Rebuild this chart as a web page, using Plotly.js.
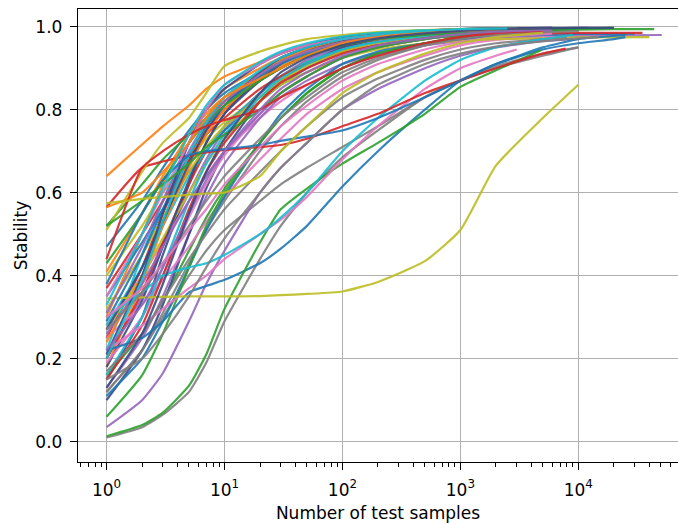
<!DOCTYPE html>
<html>
<head>
<meta charset="utf-8">
<script src="https://cdn.plot.ly/plotly-3.0.1.min.js"></script>
<style>html,body{margin:0;padding:0;overflow:hidden;background:#fff}</style>
</head>
<body>
<div id="chart" style="width:678px;height:523px"></div>
<script>
// shared x grid (number of test samples)
const xGrid = [1,2,3,5,7,10,20,30,50,100,200,500,1000,2000,5000,10000,20000,40000];

// stability curves (values on xGrid, truncated at each curve's end)
const s01 = [0.47,0.58,0.66,0.75,0.80,0.84,0.89,0.915,0.94,0.96,0.975,0.985,0.99,0.993,0.995];
const s02 = [0.30,0.50,0.62,0.74,0.80,0.85,0.90,0.925,0.945,0.965,0.978,0.988,0.992,0.994];
const s03 = [0.52,0.62,0.68,0.74,0.78,0.82,0.87,0.90,0.93,0.955,0.97,0.982,0.988,0.992,0.995,0.996,0.997];
const s04 = [0.25,0.42,0.55,0.68,0.75,0.80,0.87,0.90,0.93,0.955,0.97,0.982,0.988,0.992,0.994];
const s05 = [0.20,0.35,0.47,0.60,0.68,0.75,0.84,0.88,0.92,0.95,0.965,0.978,0.985,0.99,0.993];
const s06 = [0.15,0.30,0.45,0.62,0.72,0.79,0.88,0.915,0.945,0.97,0.982,0.99,0.994,0.996,0.997];
const s07 = [0.28,0.40,0.48,0.58,0.64,0.70,0.78,0.82,0.86,0.90,0.93,0.955,0.97,0.98,0.985];
const s08 = [0.12,0.22,0.31,0.43,0.51,0.58,0.70,0.76,0.82,0.88,0.92,0.955,0.97,0.98,0.985];
const s09 = [0.40,0.52,0.60,0.68,0.73,0.77,0.83,0.86,0.89,0.925,0.95,0.97,0.98,0.986,0.99];
const s10 = [0.22,0.45,0.58,0.72,0.78,0.83,0.89,0.92,0.945,0.965,0.978,0.987,0.991,0.994];
const s11 = [0.35,0.48,0.56,0.65,0.70,0.75,0.82,0.86,0.90,0.94,0.96,0.975,0.983,0.988,0.992,0.994];
const s12 = [0.18,0.38,0.52,0.68,0.76,0.82,0.89,0.92,0.945,0.965,0.977,0.986,0.99,0.993];
const s13 = [0.16,0.26,0.34,0.46,0.54,0.61,0.72,0.78,0.84,0.90,0.935,0.96,0.975,0.983,0.99,0.993];
const s14 = [0.20,0.36,0.48,0.62,0.70,0.76,0.84,0.88,0.915,0.945,0.962,0.977,0.985,0.99];
const s15 = [0.13,0.25,0.35,0.50,0.59,0.67,0.78,0.83,0.87,0.91,0.935,0.955,0.965,0.972,0.976,0.978,0.979,0.98];
const s16 = [0.10,0.22,0.33,0.50,0.61,0.70,0.82,0.87,0.91,0.95,0.97,0.982,0.989,0.993,0.995];
const s17 = [0.25,0.33,0.39,0.47,0.53,0.59,0.68,0.73,0.79,0.85,0.89,0.93,0.955,0.968,0.975,0.98,0.983];
const s18 = [0.12,0.22,0.30,0.40,0.46,0.51,0.58,0.62,0.66,0.71,0.76,0.83,0.87,0.905,0.935,0.95];
const s19 = [0.27,0.40,0.49,0.60,0.67,0.73,0.82,0.86,0.89,0.925,0.945,0.96,0.966,0.97,0.972,0.974,0.975];
const s20 = [0.28,0.42,0.52,0.64,0.70,0.76,0.84,0.88,0.915,0.945,0.962,0.976,0.984,0.99];
const s21 = [0.11,0.20,0.29,0.42,0.51,0.59,0.72,0.79,0.85,0.91,0.94,0.96,0.97,0.976,0.98,0.982,0.983];
const s22 = [0.41,0.55,0.64,0.74,0.79,0.83,0.88,0.905,0.93,0.955,0.97,0.982,0.988];
const s23 = [0.06,0.16,0.26,0.42,0.52,0.60,0.72,0.78,0.84,0.90,0.935,0.96,0.975,0.985,0.99,0.993];
const s24 = [0.37,0.50,0.58,0.68,0.74,0.78,0.85,0.88,0.91,0.94,0.958,0.972,0.978,0.982,0.984,0.985,0.985,0.985];
const s25 = [0.035,0.10,0.165,0.29,0.38,0.46,0.60,0.66,0.72,0.80,0.85,0.90,0.93,0.95,0.965,0.97];
const s26 = [0.18,0.34,0.47,0.63,0.72,0.79,0.87,0.91,0.94,0.965,0.978,0.987,0.991,0.994,0.996,0.997];
const s27 = [0.19,0.30,0.40,0.54,0.62,0.69,0.79,0.84,0.88,0.925,0.95,0.97,0.98,0.986,0.99];
const s28 = [0.01,0.035,0.065,0.12,0.19,0.29,0.44,0.52,0.60,0.685,0.75,0.83,0.87,0.90,0.93,0.95];
const s29 = [0.32,0.45,0.54,0.65,0.71,0.76,0.83,0.87,0.905,0.94,0.96,0.975,0.984,0.99];
const s30 = [0.16,0.30,0.42,0.58,0.67,0.74,0.83,0.875,0.91,0.945,0.963,0.977,0.985,0.99];
const s31 = [0.22,0.25,0.29,0.36,0.375,0.39,0.43,0.465,0.52,0.615,0.70,0.80,0.87,0.91,0.945,0.96,0.97,0.975];
const s32 = [0.24,0.40,0.52,0.66,0.74,0.80,0.88,0.915,0.94,0.962,0.975,0.985,0.99,0.993];
const s33 = [0.013,0.04,0.07,0.135,0.21,0.32,0.48,0.56,0.61,0.67,0.72,0.79,0.855,0.895,0.943];
const s34 = [0.15,0.28,0.40,0.56,0.65,0.72,0.82,0.865,0.90,0.935,0.955,0.972,0.982,0.988,0.992];
const s35 = [0.26,0.38,0.47,0.58,0.64,0.70,0.79,0.84,0.88,0.925,0.95,0.97,0.98,0.985,0.99];
const s36 = [0.27,0.42,0.53,0.67,0.75,0.81,0.89,0.925,0.95,0.972,0.983,0.99,0.994,0.996];
const s37 = [0.22,0.28,0.32,0.37,0.40,0.44,0.50,0.535,0.59,0.68,0.76,0.85,0.90,0.93,0.945];
const s38 = [0.17,0.26,0.34,0.44,0.50,0.56,0.65,0.70,0.76,0.83,0.875,0.92,0.945,0.96,0.97,0.975];
const s39 = [0.345,0.348,0.349,0.35,0.35,0.35,0.351,0.353,0.356,0.362,0.385,0.435,0.51,0.665,0.78,0.86];
const s40 = [0.30,0.36,0.40,0.42,0.43,0.45,0.50,0.54,0.60,0.70,0.78,0.87,0.92,0.95,0.97,0.98];
const s41 = [0.29,0.45,0.56,0.69,0.76,0.81,0.88,0.91,0.935,0.96,0.973,0.984,0.99,0.993];
const s42 = [0.64,0.716,0.76,0.81,0.85,0.88,0.915,0.935,0.955,0.972,0.982,0.99,0.994,0.996];
const s43 = [0.43,0.55,0.63,0.72,0.77,0.81,0.87,0.90,0.93,0.955,0.97,0.98,0.986,0.99,0.992,0.993,0.994,0.994];
const s44 = [0.565,0.66,0.675,0.69,0.697,0.703,0.71,0.715,0.73,0.76,0.79,0.84,0.87,0.90,0.935,0.947];
const s45 = [0.31,0.47,0.58,0.70,0.77,0.82,0.885,0.915,0.94,0.962,0.975,0.985,0.99,0.993,0.995];
const s46 = [0.21,0.40,0.55,0.72,0.80,0.85,0.91,0.935,0.955,0.975,0.985,0.991,0.994,0.996,0.997];
const s47 = [0.35,0.50,0.60,0.72,0.80,0.86,0.91,0.935,0.955,0.97,0.98,0.988,0.992,0.994];
const s48 = [0.27,0.36,0.43,0.52,0.58,0.64,0.73,0.78,0.83,0.89,0.925,0.955,0.97,0.98,0.986,0.99];
const s49 = [0.51,0.65,0.72,0.78,0.84,0.905,0.94,0.955,0.97,0.98,0.987,0.992,0.994,0.995];
const s50 = [0.20,0.39,0.53,0.69,0.77,0.83,0.895,0.925,0.95,0.97,0.98,0.988,0.992,0.995];
const s51 = [0.38,0.55,0.63,0.69,0.70,0.705,0.715,0.725,0.735,0.75,0.78,0.83,0.87,0.91,0.95,0.97,0.98];
const s52 = [0.565,0.60,0.65,0.72,0.78,0.83,0.875,0.90,0.93,0.96,0.975,0.985,0.99,0.993,0.995];
const s53 = [0.52,0.58,0.62,0.67,0.71,0.74,0.80,0.84,0.88,0.925,0.95,0.97,0.98,0.988,0.993,0.995,0.997];
const s54 = [0.44,0.66,0.70,0.74,0.76,0.775,0.80,0.83,0.86,0.90,0.93,0.96,0.975,0.985,0.99];
const s55 = [0.22,0.33,0.42,0.55,0.63,0.70,0.80,0.85,0.89,0.93,0.955,0.972,0.982,0.988,0.992];
const s56 = [0.13,0.26,0.38,0.55,0.65,0.73,0.84,0.89,0.925,0.955,0.972,0.984,0.99,0.994,0.996,0.997,0.997];
const s57 = [0.30,0.37,0.43,0.51,0.56,0.62,0.71,0.76,0.81,0.87,0.91,0.945,0.963,0.975,0.983];
const s58 = [0.15,0.20,0.26,0.35,0.42,0.49,0.60,0.66,0.72,0.80,0.86,0.91,0.935,0.952,0.965,0.972,0.975];
const s59 = [0.575,0.585,0.59,0.595,0.598,0.60,0.64,0.70,0.76,0.84,0.89,0.935,0.96,0.975,0.985];
const s60 = [0.33,0.50,0.61,0.74,0.81,0.86,0.915,0.94,0.96,0.976,0.985,0.991,0.994,0.996];

// last sample count reached by each curve
const lastSample = [5000,3000,20000,6000,5000,6000,4000,5000,5000,3000,
                    10000,2500,10000,3000,51000,5000,20000,10000,40000,3000,
                    30000,1500,10000,35000,9000,12000,5000,10000,3000,3500,
                    25000,2000,4800,7000,6000,2500,3000,8000,10000,9000,
                    3000,3000,44000,7800,5000,6000,3000,10000,3000,3000,
                    25000,6000,20000,5000,6000,20000,6000,15000,5000,2500];

const allSeries = [s01,s02,s03,s04,s05,s06,s07,s08,s09,s10,s11,s12,s13,s14,s15,s16,s17,s18,s19,s20,
                   s21,s22,s23,s24,s25,s26,s27,s28,s29,s30,s31,s32,s33,s34,s35,s36,s37,s38,s39,s40,
                   s41,s42,s43,s44,s45,s46,s47,s48,s49,s50,s51,s52,s53,s54,s55,s56,s57,s58,s59,s60];

const palette = ['#1f77b4','#ff7f0e','#2ca02c','#d62728','#9467bd','#3b4a85','#e377c2','#7f7f7f','#bcbd22','#17becf'];

const majorTicks = [1,10,100,1000,10000];
const majorText = ['10<sup>0</sup>','10<sup>1</sup>','10<sup>2</sup>','10<sup>3</sup>','10<sup>4</sup>'];
const yTicks = [0,0.2,0.4,0.6,0.8,1.0];
const yText = ['0.0','0.2','0.4','0.6','0.8','1.0'];

const minorTicks = [];
[0.1,1,10,100,1000,10000].forEach(d => { for (let m = 2; m <= 9; m++) minorTicks.push(d*m); });

const traces = allSeries.map((ys, i) => {
  const xs = xGrid.slice(0, ys.length);
  xs[xs.length - 1] = lastSample[i];
  return {
    x: xs, y: ys, type: 'scatter', mode: 'lines',
    line: {color: palette[i % 10], width: 2.2, shape: 'spline', smoothing: 0.5},
    opacity: 0.9, hoverinfo: 'skip', showlegend: false
  };
});
traces.push({x:[1], y:[null], xaxis:'x2', yaxis:'y', type:'scatter', mode:'lines', showlegend:false, hoverinfo:'skip'});

const xr = [-0.242, 4.845];
const layout = {
  width: 678, height: 523,
  margin: {l: 78, r: 0, t: 9, b: 61, pad: 0},
  paper_bgcolor: '#fff', plot_bgcolor: '#fff',
  font: {family: 'DejaVu Sans, sans-serif', size: 17, color: '#000'},
  showlegend: false,
  xaxis: {
    type: 'log', range: xr, tickmode: 'array', tickvals: majorTicks, ticktext: majorText,
    ticks: 'outside', ticklen: 7, tickwidth: 1.2, tickcolor: '#000', ticklabelstandoff: 5,
    showgrid: true, gridcolor: '#b0b0b0', gridwidth: 1.1,
    showline: true, linecolor: '#000', linewidth: 1.2, mirror: true, zeroline: false,
    title: {text: 'Number of test samples', font: {size: 17}, standoff: 8}
  },
  xaxis2: {
    type: 'log', range: xr, overlaying: 'x', anchor: 'y', side: 'bottom',
    tickmode: 'array', tickvals: minorTicks, showticklabels: false,
    ticks: 'outside', ticklen: 4, tickwidth: 1, tickcolor: '#000',
    showgrid: false, showline: false, zeroline: false
  },
  yaxis: {
    range: [-0.0489, 1.0426], tickmode: 'array', tickvals: yTicks, ticktext: yText,
    ticks: 'outside', ticklen: 7, tickwidth: 1.2, tickcolor: '#000', ticklabelstandoff: 4,
    showgrid: true, gridcolor: '#b0b0b0', gridwidth: 1.1,
    showline: true, linecolor: '#000', linewidth: 1.2, mirror: false, zeroline: false,
    title: {text: 'Stability', font: {size: 17}, standoff: 3}
  }
};

Plotly.newPlot('chart', traces, layout, {displayModeBar: false, staticPlot: true});
</script>
</body>
</html>
